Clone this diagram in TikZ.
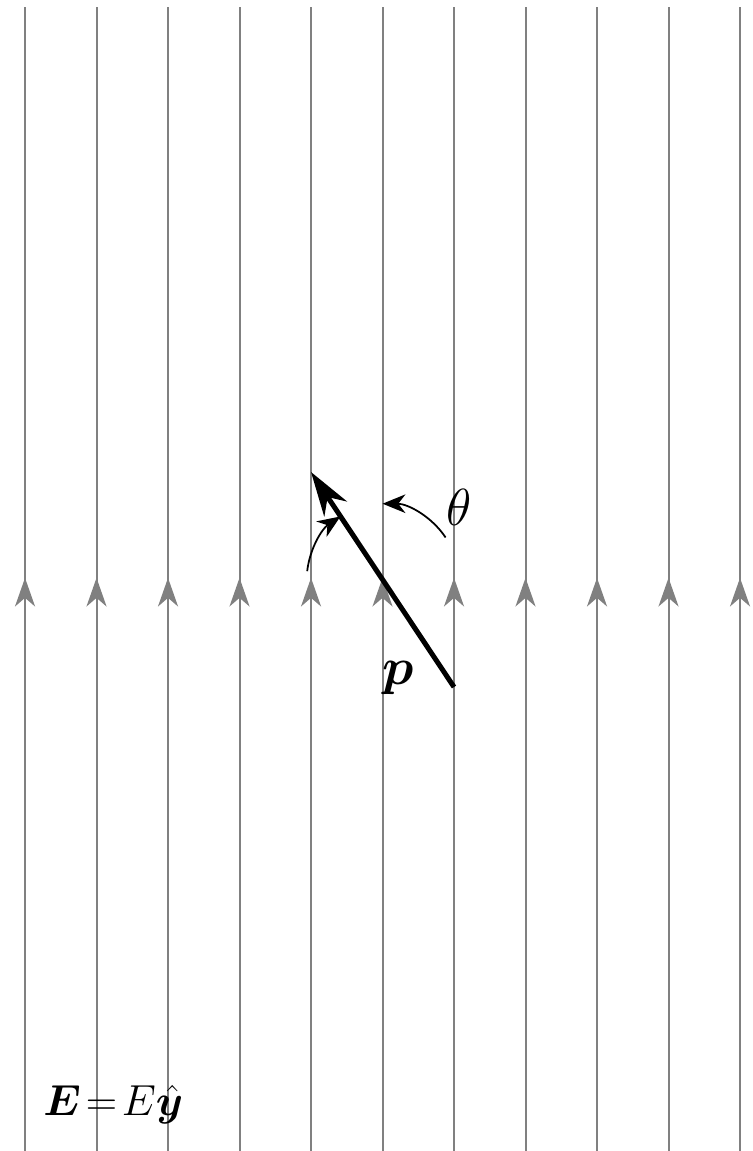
\documentclass[tikz,border=0pt]{standalone}
\usepackage{amsmath}
\usepackage{bm}
\usepackage{tikz}
\usetikzlibrary{arrows.meta}
\usetikzlibrary{calc}
\tikzset{
  fieldline/.style={gray,line width=0.8pt},
  fieldtip/.style={fieldline,-{Stealth[length=4mm,width=2.8mm,inset=1.2mm]}},
  dipole/.style={line width=2pt,-{Stealth[length=6.2mm,width=3.8mm,inset=2mm]}},
  anglearc/.style={line width=0.7pt,-{Stealth[length=3.2mm,width=2.6mm,inset=1mm]}},
  biglabel/.style={font=\fontsize{20}{24}\selectfont}
}
\begin{document}
\begin{tikzpicture}
\useasboundingbox (-0.35,-7.776) rectangle (10.168,8.322);
% field lines E
\foreach \i in {0,...,10}{
  \draw[fieldline] (\i,-7.8) -- (\i,8.224);
  \draw[fieldtip] (\i,-0.5) -- (\i,0.24);
}
% dipole
\coordinate (c) at (5,0.217);
\coordinate (tail) at (6,-1.287);
\coordinate (tip) at (4,1.72);
\draw[dipole] (tail) -- (tip);
\draw[anglearc] ($(c)+(33.7:1.06)$) arc[start angle=33.7,end angle=90,radius=1.06];
\draw[anglearc] ($(c)+(173.7:1.06)$) arc[start angle=173.7,end angle=123.7,radius=1.06];
\node[biglabel] (plab) at (5.22,-1.16) {$\bm{p}$};
\node[biglabel] (thlab) at (6.07,1.22) {$\theta$};
\node[font=\fontsize{18}{22}\selectfont,anchor=west,inner sep=0pt] (Elab) at (0.25,-7.13)
  {$\bm{E}\mskip2mu{=}\mskip2mu E\hat{\bm{y}}$};
\end{tikzpicture}
\end{document}
